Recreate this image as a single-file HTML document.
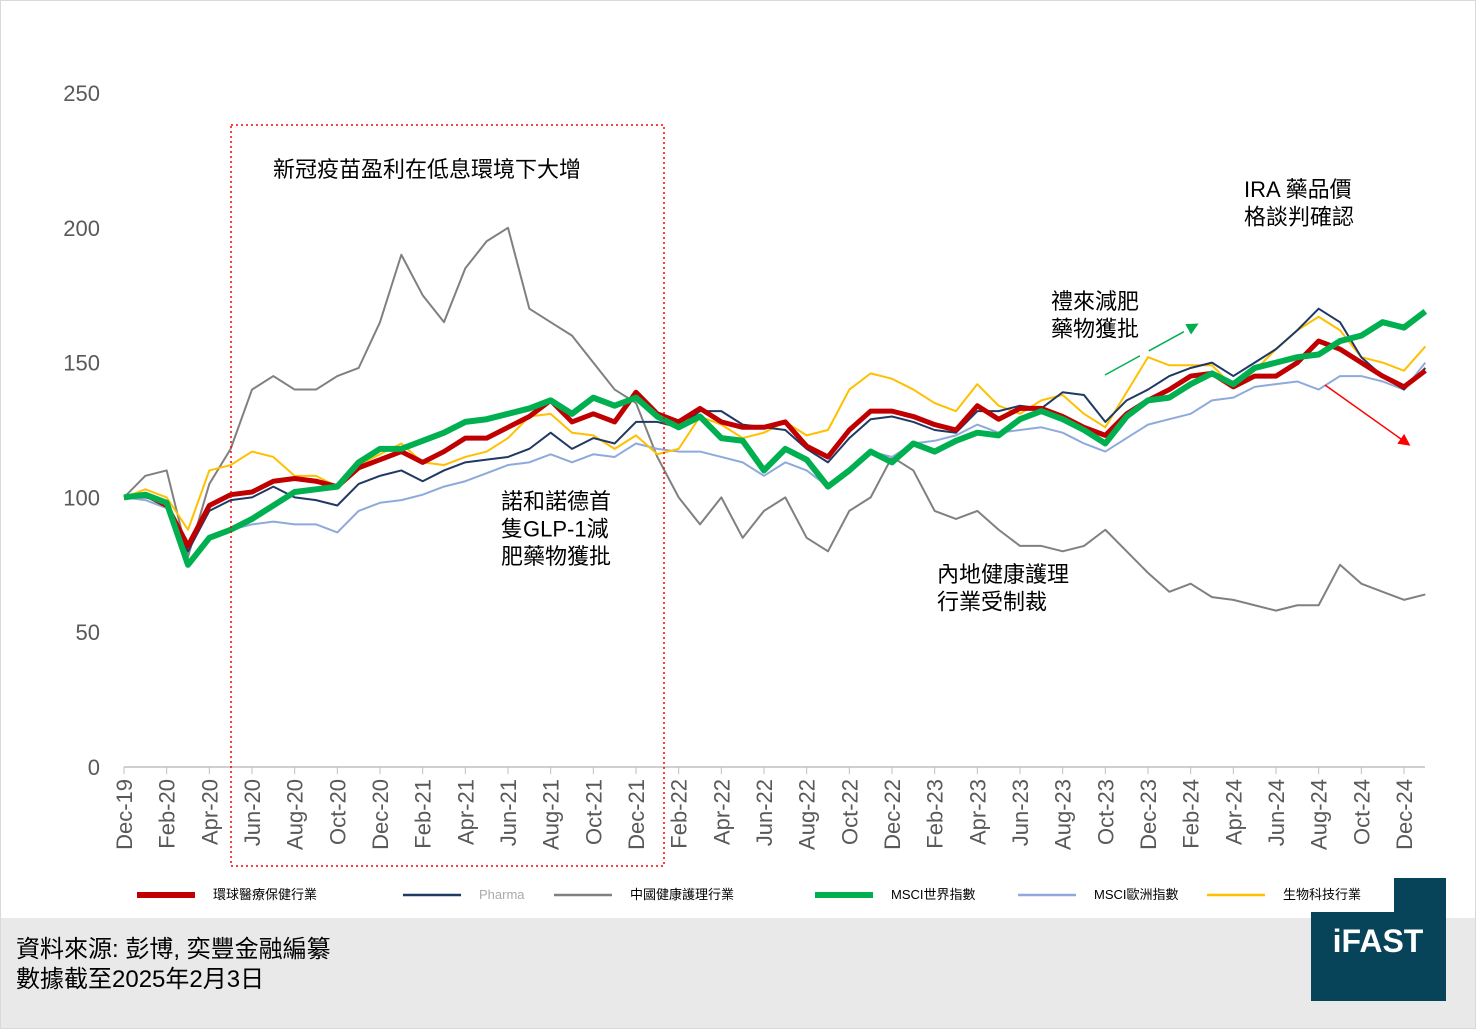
<!DOCTYPE html>
<html><head><meta charset="utf-8"><style>
body{margin:0;background:#fff;}
#wrap{position:relative;width:1476px;height:1029px;overflow:hidden;background:#fff;font-family:"Liberation Sans","Noto Sans CJK TC",sans-serif;}
svg text{font-family:"Liberation Sans","Noto Sans CJK TC",sans-serif;}
</style></head><body>
<div id="wrap">
<svg id="chart" width="1476" height="1029"></svg>
</div>
<script>
const months=["Dec-19","Feb-20","Apr-20","Jun-20","Aug-20","Oct-20","Dec-20","Feb-21","Apr-21","Jun-21","Aug-21","Oct-21","Dec-21","Feb-22","Apr-22","Jun-22","Aug-22","Oct-22","Dec-22","Feb-23","Apr-23","Jun-23","Aug-23","Oct-23","Dec-23","Feb-24","Apr-24","Jun-24","Aug-24","Oct-24","Dec-24"];
const yTicks=[0,50,100,150,200,250];
const china=[100,108,110,78,105,118,140,145,140,140,145,148,165,190,175,165,185,195,200,170,165,160,150,140,135,115,100,90,100,85,95,100,85,80,95,100,115,110,95,92,95,88,82,82,80,82,88,80,72,65,68,63,62,60,58,60,60,75,68,65,62,64];
const world=[100,101,98,75,85,88,92,97,102,103,104,113,118,118,121,124,128,129,131,133,136,131,137,134,137,130,126,130,122,121,110,118,114,104,110,117,113,120,117,121,124,123,129,132,129,125,120,130,136,137,142,146,142,148,150,152,153,158,160,165,163,169];
const health=[100,101,97,82,97,101,102,106,107,106,104,111,114,117,113,117,122,122,126,130,136,128,131,128,139,131,128,133,128,126,126,128,119,115,125,132,132,130,127,125,134,129,133,133,130,126,123,131,136,140,145,146,141,145,145,150,158,155,150,145,141,147];
const pharma=[100,100,98,80,95,99,100,104,100,99,97,105,108,110,106,110,113,114,115,118,124,118,122,120,128,128,126,132,132,127,126,125,118,113,122,129,130,128,125,124,132,132,134,133,139,138,128,136,140,145,148,150,145,150,155,162,170,165,152,145,140,148];
const europe=[100,99,96,75,85,88,90,91,90,90,87,95,98,99,101,104,106,109,112,113,116,113,116,115,120,118,117,117,115,113,108,113,110,104,110,117,115,120,121,123,127,124,125,126,124,120,117,122,127,129,131,136,137,141,142,143,140,145,145,143,140,150];
const biotech=[100,103,100,88,110,112,117,115,108,108,104,112,116,120,113,112,115,117,122,130,131,124,123,118,123,116,118,130,127,122,124,128,123,125,140,146,144,140,135,132,142,134,131,136,138,131,126,139,152,149,149,149,141,147,155,162,167,162,152,150,147,156];

const NS="http://www.w3.org/2000/svg";
const svg=document.getElementById('chart');
const X=i=>124+i*21.333;
const Y=v=>767-v*2.696;
function el(tag,attrs,parent){const e=document.createElementNS(NS,tag);for(const k in attrs)e.setAttribute(k,attrs[k]);(parent||svg).appendChild(e);return e;}

let r=el('rect',{x:0,y:918,width:1476,height:111,fill:'#e9e9e9'});


let b=el('rect',{x:0.5,y:0.5,width:1475,height:1028,fill:'none',stroke:'#d9d9d9'});



yTicks.forEach(v=>{
  const t=el('text',{x:100,y:Y(v)+8,'text-anchor':'end','font-size':22,fill:'#595959'});
  t.textContent=v;
  
  
});
let ax=el('line',{x1:124,y1:767,x2:1425,y2:767,stroke:'#bfbfbf','stroke-width':1.5});


months.forEach((m,k)=>{
  const x=X(k*2);
  el('line',{x1:x,y1:767,x2:x,y2:774,stroke:'#bfbfbf'});
  const t=el('text',{x:0,y:0,'text-anchor':'end','font-size':22,fill:'#595959',transform:`translate(${x+8},779) rotate(-90)`});
  t.textContent=m;
  
  
});

function line(data,color,w,name){
  const p=el('polyline',{points:data.map((v,i)=>X(i)+','+Y(v)).join(' '),fill:'none',stroke:color,'stroke-width':w,'stroke-linejoin':'round'});
  
  
}
line(china,'#808080',2,'series-china-healthcare');
line(europe,'#8eaadb',2,'series-msci-europe');
line(biotech,'#ffc000',2,'series-biotech');
line(pharma,'#1f3864',2,'series-pharma');
line(health,'#c00000',5,'series-global-healthcare');
line(world,'#00b050',6,'series-msci-world');

let box=el('rect',{x:231,y:125,width:433,height:741,fill:'none',stroke:'#ff0000','stroke-width':1.5,'stroke-dasharray':'2,3'});



function txt(lines,x,y,size,name){
  lines.forEach((s,i)=>{
    const t=el('text',{x:x,y:y+i*size*1.25,'font-size':size,fill:'#000'});
    t.textContent=s;
    
    
  });
}
txt(['新冠疫苗盈利在低息環境下大增'],273,177,22,'annotation-covid');
txt(['IRA 藥品價','格談判確認'],1244,197,22,'annotation-ira');
txt(['禮來減肥','藥物獲批'],1051,309,22,'annotation-lilly');
txt(['諾和諾德首','隻GLP-1減','肥藥物獲批'],501,509,22,'annotation-novo');
txt(['內地健康護理','行業受制裁'],937,582,22,'annotation-china-sanction');

el('defs',{}).innerHTML='<marker id="ag" markerWidth="8" markerHeight="8" refX="6" refY="4" orient="auto"><path d="M0,0 L8,4 L0,8z" fill="#00b050"/></marker><marker id="ar" markerWidth="8" markerHeight="8" refX="6" refY="4" orient="auto"><path d="M0,0 L8,4 L0,8z" fill="#ff0000"/></marker>';
let a1=el('line',{x1:1105,y1:375,x2:1196,y2:325,stroke:'#00b050','stroke-width':1.5,'stroke-dasharray':'40,10','marker-end':'url(#ag)'});


let a2=el('line',{x1:1325,y1:385,x2:1408,y2:444,stroke:'#ff0000','stroke-width':1.5,'marker-end':'url(#ar)'});



// logo first
let lg=el('rect',{x:1311,y:878,width:135,height:123,fill:'#07445a'});


let wb=el('rect',{x:1300,y:878,width:94,height:34,fill:'#fff'});


let lt=el('text',{x:1378,y:952,'text-anchor':'middle','font-size':32,'font-weight':'bold',fill:'#fff'});
lt.textContent='iFAST';



const leg=[['#c00000',6,'環球醫療保健行業',137],['#1f3864',2.5,'Pharma',403],['#808080',2.5,'中國健康護理行業',554],['#00b050',6,'MSCI世界指數',815],['#8eaadb',2.5,'MSCI歐洲指數',1018],['#ffc000',2.5,'生物科技行業',1207]];
leg.forEach(([c,w,s,x])=>{
  const g=el('g',{});
  
  
  el('line',{x1:x,y1:895,x2:x+58,y2:895,stroke:c,'stroke-width':w},g);
  const t=el('text',{x:x+76,y:899,'font-size':13,fill:s==='Pharma'?'#aaa':'#000'},g);
  t.textContent=s;
});

txt(['資料來源: 彭博, 奕豐金融編纂','數據截至2025年2月3日'],16,957,24,'source-note');
</script>
</body></html>
